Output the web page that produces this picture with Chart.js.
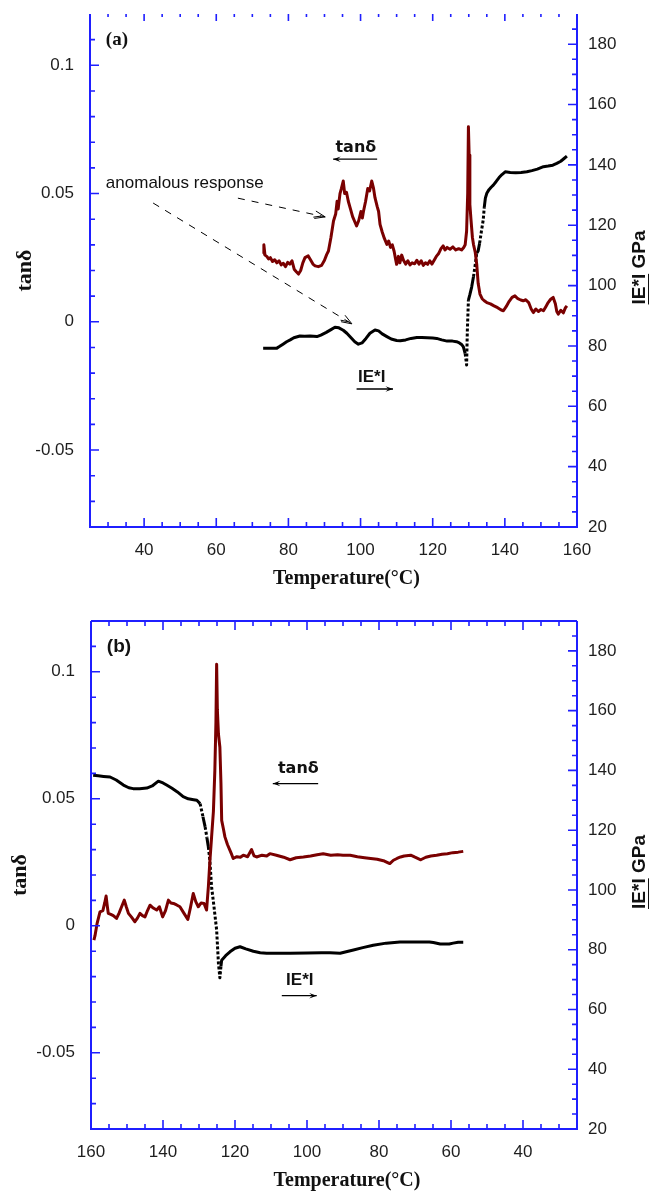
<!DOCTYPE html>
<html><head><meta charset="utf-8">
<script src="https://cdn.jsdelivr.net/npm/chart.js@4.4.0/dist/chart.umd.min.js"></script>
<style>
html,body{margin:0;padding:0;background:#fff;}
#wrap{position:relative;width:649px;height:1192px;overflow:hidden;}
canvas{position:absolute;left:0;}
#c1{top:0}
#c2{top:596px}
</style></head><body>
<div id="wrap"><canvas id="c1" width="649" height="596"></canvas><canvas id="c2" width="649" height="596"></canvas></div>
<script>
// ---------- tick labels ----------
const tempTicks = [40, 60, 80, 100, 120, 140, 160];
const tanTicks = [-0.05, 0, 0.05, 0.1];
const tanTickLabels = ['-0.05', '0', '0.05', '0.1'];
const modTicks = [20, 40, 60, 80, 100, 120, 140, 160, 180];

// ---------- panel (a): heating ----------
const aTanTemp = [73.0,73.2,73.5,74.0,74.5,75.0,75.6,76.2,76.8,77.4,78.0,78.6,79.2,79.8,80.4,81.0,81.6,82.2,82.8,83.4,84.0,84.6,85.5,86.2,86.8,87.4,88.3,89.2,90.0,90.6,91.1,91.8,92.5,93.1,93.5,93.8,94.3,94.7,95.2,95.6,96.1,96.6,97.2,97.8,98.4,98.9,99.5,100.1,100.5,100.8,101.4,102.0,102.5,103.1,103.6,104.0,104.6,105.0,105.4,106.0,106.6,107.3,107.8,108.3,108.8,109.3,109.7,110.0,110.5,110.9,111.4,111.9,112.5,113.1,113.7,114.3,115.0,115.6,116.2,116.8,117.4,118.0,118.6,119.2,119.8,120.4,121.0,121.6,122.3,122.9,123.4,124.0,124.8,125.6,126.4,127.2,128.0,128.6,129.0,129.4,129.7,129.9,130.1,130.3,130.6,131.0,131.3,131.8,132.2,132.6,133.1,133.7,134.3,135.0,136.0,137.0,138.0,139.0,139.6,140.4,141.2,142.0,142.8,143.6,144.4,145.1,145.8,146.6,147.3,147.9,148.6,149.3,150.0,150.7,151.4,152.0,152.7,153.4,154.0,154.4,154.8,155.5,156.2,156.8,157.2];
const aTan = [0.0265,0.0300,0.0260,0.0255,0.0245,0.0250,0.0235,0.0242,0.0230,0.0238,0.0222,0.0228,0.0215,0.0232,0.0225,0.0238,0.0205,0.0195,0.0186,0.0200,0.0230,0.0250,0.0257,0.0240,0.0225,0.0218,0.0215,0.0220,0.0240,0.0262,0.0276,0.0330,0.0393,0.0420,0.0470,0.0440,0.0500,0.0520,0.0549,0.0500,0.0505,0.0470,0.0440,0.0410,0.0390,0.0374,0.0395,0.0430,0.0405,0.0430,0.0470,0.0520,0.0510,0.0549,0.0520,0.0484,0.0450,0.0430,0.0380,0.0350,0.0325,0.0302,0.0315,0.0290,0.0300,0.0275,0.0245,0.0224,0.0255,0.0230,0.0260,0.0240,0.0225,0.0238,0.0222,0.0230,0.0226,0.0240,0.0225,0.0238,0.0220,0.0230,0.0224,0.0238,0.0225,0.0240,0.0255,0.0265,0.0285,0.0296,0.0280,0.0290,0.0283,0.0292,0.0280,0.0285,0.0280,0.0290,0.0300,0.0354,0.0500,0.0760,0.0650,0.0458,0.0400,0.0330,0.0302,0.0270,0.0225,0.0150,0.0108,0.0090,0.0082,0.0075,0.0070,0.0062,0.0055,0.0046,0.0043,0.0060,0.0080,0.0095,0.0101,0.0090,0.0085,0.0082,0.0086,0.0075,0.0050,0.0036,0.0050,0.0040,0.0048,0.0043,0.0060,0.0075,0.0088,0.0095,0.0070,0.0040,0.0030,0.0045,0.0035,0.0055,0.0062];
const aModTemp = [73.0,74.0,75.0,76.7,77.5,78.5,79.5,80.5,81.5,83.2,84.5,86.0,87.9,89.0,90.5,91.8,92.9,94.0,95.2,96.2,97.3,98.4,99.4,100.4,101.5,102.6,104.0,105.0,106.0,107.3,108.5,110.0,111.0,112.5,114.0,115.6,117.0,118.5,120.0,121.1,122.5,124.0,125.5,126.6,127.4,128.0,128.5,129.0,129.4,129.6,129.9,130.3,130.8,131.3,131.8,132.2,132.6,133.0,133.5,134.0,134.3,134.6,135.0,135.6,136.2,136.8,137.6,138.4,139.2,140.1,141.5,143.0,144.5,146.1,147.5,149.0,150.7,152.0,153.3,154.4,155.5,156.5,157.2];
const aMod = [79.2,79.2,79.2,79.2,79.8,80.6,81.4,82.0,82.7,83.3,83.2,83.3,83.1,83.6,84.5,85.4,86.2,86.0,85.2,84.2,82.8,81.4,80.6,81.0,82.5,84.2,85.3,85.0,84.0,83.1,82.3,81.8,81.7,82.0,82.5,82.8,82.8,82.7,82.6,82.5,82.0,81.6,81.6,81.4,81.0,80.5,79.7,77.5,73.7,85.0,95.2,97.0,99.5,102.9,107.0,110.7,111.5,114.0,118.0,121.7,126.0,129.0,130.6,131.8,132.6,133.3,134.5,135.8,136.8,137.7,137.5,137.4,137.5,137.7,138.1,138.6,139.4,139.6,139.9,140.5,141.2,142.2,142.9];

// ---------- panel (b): cooling ----------
const bTanTemp = [159.2,158.9,158.3,157.5,156.7,156.2,155.8,155.5,155.2,154.5,153.8,152.9,152.2,151.5,150.75,150.2,149.6,148.8,147.8,147.1,146.4,145.7,145.0,144.3,143.6,142.7,141.75,141.0,140.1,139.3,138.5,137.8,137.1,136.2,135.3,134.2,133.1,132.4,131.6,130.9,130.2,129.4,128.6,127.9,127.4,127.0,126.5,126.0,125.6,125.3,125.1,124.9,124.6,124.2,123.9,123.7,123.2,122.8,122.1,121.4,120.9,120.5,119.5,118.5,117.7,116.5,115.4,114.7,114.0,112.5,111.2,110.3,108.5,106.5,104.7,103.0,101.0,99.0,97.2,95.5,93.4,91.5,90.0,88.0,86.0,84.0,82.3,80.5,78.5,77.0,76.0,75.0,74.0,73.0,71.2,70.0,68.4,67.0,65.6,64.0,62.5,61.0,59.5,58.0,56.6];
const bTan = [-0.0056,-0.0040,0.0010,0.0055,0.0060,0.0090,0.0117,0.0080,0.0049,0.0045,0.0040,0.0029,0.0050,0.0075,0.0101,0.0075,0.0049,0.0035,0.0016,0.0030,0.0049,0.0040,0.0035,0.0060,0.0081,0.0070,0.0062,0.0075,0.0035,0.0060,0.0101,0.0090,0.0088,0.0082,0.0075,0.0050,0.0025,0.0070,0.0127,0.0095,0.0075,0.0090,0.0088,0.0062,0.0153,0.0250,0.0350,0.0450,0.0611,0.0800,0.1030,0.0850,0.0755,0.0703,0.0560,0.0415,0.0380,0.0350,0.0320,0.0297,0.0280,0.0265,0.0272,0.0270,0.0278,0.0272,0.0300,0.0275,0.0271,0.0278,0.0275,0.0284,0.0278,0.0270,0.0260,0.0268,0.0271,0.0275,0.0280,0.0284,0.0278,0.0280,0.0278,0.0278,0.0272,0.0268,0.0265,0.0262,0.0255,0.0245,0.0258,0.0265,0.0271,0.0275,0.0278,0.0270,0.0260,0.0270,0.0275,0.0278,0.0282,0.0284,0.0288,0.0290,0.0293];
const bModTemp = [159.4,158.0,156.5,154.7,153.0,151.0,149.5,148.3,146.5,144.5,143.0,141.3,140.0,139.0,137.5,136.0,134.4,133.0,131.5,130.6,129.7,128.9,128.3,127.8,127.4,127.0,126.5,125.8,125.1,124.6,124.2,123.9,123.7,122.6,121.4,120.0,118.6,117.0,114.9,113.0,111.2,108.0,104.7,100.0,96.0,93.6,90.8,88.8,87.1,84.5,81.6,78.0,74.2,70.0,66.0,64.9,63.0,60.5,59.4,58.0,56.6];
const bMod = [138.4,138.2,138.0,137.8,136.8,135.1,134.2,133.9,133.9,134.1,134.8,136.4,135.8,135.1,134.0,132.8,131.2,130.5,130.2,130.0,128.9,124.5,121.1,117.5,114.4,110.0,101.0,94.0,86.6,75.4,70.6,74.5,76.5,78.0,79.3,80.5,81.0,80.3,79.5,79.0,78.8,78.8,78.8,78.9,79.0,79.0,78.8,79.4,79.9,80.7,81.5,82.2,82.6,82.6,82.6,82.4,81.9,81.9,82.2,82.5,82.5];

// ---------- styling ----------
const AXIS_BLUE = '#1f1fff';
const TAN_COLOR = '#7a0000';
const MOD_COLOR = '#000000';
const TICK_FONT = {family: "'Liberation Sans', Arial, sans-serif", size: 17};
const TICK_COLOR = '#1e1e1e';

function pts(xs, ys) { return xs.map((x, i) => ({x: x, y: ys[i]})); }

function drawArrowHead(ctx, x0, y0, x1, y1, len, open) {
  const ang = Math.atan2(y1 - y0, x1 - x0);
  const a1 = ang + Math.PI - 0.35, a2 = ang + Math.PI + 0.35;
  ctx.beginPath();
  if (open) {
    ctx.moveTo(x1 + len * Math.cos(a1), y1 + len * Math.sin(a1));
    ctx.lineTo(x1, y1);
    ctx.lineTo(x1 + len * Math.cos(a2), y1 + len * Math.sin(a2));
    ctx.stroke();
    ctx.beginPath();
    const bx = x1 - 4 * Math.cos(ang), by = y1 - 4 * Math.sin(ang);
    ctx.moveTo(bx + (len - 3) * Math.cos(a1), by + (len - 3) * Math.sin(a1));
    ctx.lineTo(bx, by);
    ctx.stroke();
  } else {
    ctx.moveTo(x1, y1);
    ctx.lineTo(x1 + len * Math.cos(a1), y1 + len * Math.sin(a1));
    ctx.lineTo(x1 - 0.55 * len * Math.cos(ang), y1 - 0.55 * len * Math.sin(ang));
    ctx.lineTo(x1 + len * Math.cos(a2), y1 + len * Math.sin(a2));
    ctx.closePath();
    ctx.fill();
  }
}

const framePlugin = {
  id: 'frame',
  afterDraw(chart, args, o) {
    const ctx = chart.ctx, a = chart.chartArea;
    const xs = chart.scales.x, yl = chart.scales.y, yr = chart.scales.y1;
    ctx.save();
    ctx.strokeStyle = AXIS_BLUE;
    ctx.lineWidth = 2;
    ctx.beginPath();
    ctx.moveTo(a.left, a.top); ctx.lineTo(a.left, a.bottom);
    ctx.lineTo(a.right, a.bottom); ctx.lineTo(a.right, a.top);
    if (o.topLine) { ctx.moveTo(a.left, a.top); ctx.lineTo(a.right, a.top); }
    ctx.stroke();
    ctx.lineWidth = 1.6;
    ctx.beginPath();
    for (let v = 30; v < 160; v += 5) {
      const px = xs.getPixelForValue(v);
      const major = v % 20 === 0;
      const L = major ? 9 : 5;
      ctx.moveTo(px, a.bottom); ctx.lineTo(px, a.bottom - L);
      const T = o.topLine ? L : (major ? 7 : 3);
      ctx.moveTo(px, a.top); ctx.lineTo(px, a.top + T);
    }
    for (let k = -7; k <= 11; k++) {
      const py = yl.getPixelForValue(k / 100);
      const L = (k % 5 === 0) ? 9 : 5;
      ctx.moveTo(a.left, py); ctx.lineTo(a.left + L, py);
    }
    for (let v = 25; v < 190; v += 5) {
      const py = yr.getPixelForValue(v);
      const L = (v % 20 === 0) ? 9 : 5;
      ctx.moveTo(a.right, py); ctx.lineTo(a.right - L, py);
    }
    ctx.stroke();

    // axis titles
    ctx.fillStyle = '#111';
    const cy = (a.top + a.bottom) / 2;
    ctx.save();
    ctx.translate(o.leftTitleX, cy);
    ctx.rotate(-Math.PI / 2);
    ctx.font = "bold 22px 'Liberation Serif', 'Times New Roman', serif";
    ctx.textAlign = 'center'; ctx.textBaseline = 'middle';
    ctx.fillText('tan\u03b4', 0, 0);
    ctx.restore();

    ctx.save();
    ctx.translate(o.rightTitleX, cy - 3);
    ctx.rotate(-Math.PI / 2);
    ctx.font = "bold 19px 'Liberation Sans', Arial, sans-serif";
    ctx.textAlign = 'left'; ctx.textBaseline = 'middle';
    const full = 'IE*I GPa';
    const w = ctx.measureText(full).width;
    ctx.fillText(full, -w / 2, 0);
    const wu = ctx.measureText('IE*I').width;
    ctx.fillRect(-w / 2, 8, wu, 1.5);
    ctx.restore();

    ctx.font = "bold 20px 'Liberation Serif', 'Times New Roman', serif";
    ctx.textAlign = 'center'; ctx.textBaseline = 'middle';
    ctx.fillText('Temperature(\u00b0C)', (a.left + a.right) / 2 + 13, a.bottom + o.xTitleDY);

    // annotations
    (o.notes || []).forEach(n => {
      ctx.strokeStyle = '#000'; ctx.fillStyle = '#111';
      if (n.type === 'text') {
        ctx.font = n.font;
        ctx.textAlign = n.align || 'center'; ctx.textBaseline = 'middle';
        ctx.fillText(n.text, xs.getPixelForValue(n.x), yl.getPixelForValue(n.y));
      } else if (n.type === 'arrow') {
        const x0 = xs.getPixelForValue(n.x0), x1 = xs.getPixelForValue(n.x1), y = yl.getPixelForValue(n.y);
        ctx.lineWidth = 1.3;
        ctx.beginPath(); ctx.moveTo(x0, y); ctx.lineTo(x1, y); ctx.stroke();
        ctx.fillStyle = '#000';
        drawArrowHead(ctx, x0, y, x1, y, 8, false);
      } else if (n.type === 'dash') {
        const x0 = xs.getPixelForValue(n.x0), y0 = yl.getPixelForValue(n.y0);
        const x1 = xs.getPixelForValue(n.x1), y1 = yl.getPixelForValue(n.y1);
        ctx.lineWidth = 1;
        ctx.setLineDash([7, 7]);
        ctx.beginPath(); ctx.moveTo(x0, y0); ctx.lineTo(x1, y1); ctx.stroke();
        ctx.setLineDash([]);
        drawArrowHead(ctx, x0, y0, x1, y1, 11, true);
      }
    });
    ctx.restore();
  }
};

function makeChart(id, p) {
  const steep = ctx => (Math.abs(ctx.p1.parsed.y - ctx.p0.parsed.y) > 3.5 ? [3, 2] : undefined);
  const vFit = w => s => { s.width = w; s.paddingTop = 0; s.paddingBottom = 0; };
  return new Chart(document.getElementById(id), {
    type: 'line',
    data: {
      datasets: [
        {label: 'tan\u03b4', data: pts(p.tanT, p.tan), yAxisID: 'y', borderColor: TAN_COLOR,
         borderWidth: 3, pointRadius: 0, tension: 0, fill: false, borderJoinStyle: 'round'},
        {label: 'IE*I', data: pts(p.modT, p.mod), yAxisID: 'y1', borderColor: MOD_COLOR,
         borderWidth: 3, pointRadius: 0, tension: 0, fill: false, borderJoinStyle: 'round',
         segment: {borderDash: steep}}
      ]
    },
    options: {
      responsive: false, animation: false, devicePixelRatio: 1,
      layout: {padding: {top: p.padTop, left: 0, right: 0, bottom: 0}},
      plugins: {legend: {display: false}, tooltip: {enabled: false},
        frame: {topLine: p.topLine, leftTitleX: p.leftTitleX, rightTitleX: 640, xTitleDY: p.xTitleDY, notes: p.notes}},
      scales: {
        x: {type: 'linear', min: 25, max: 160, reverse: p.reverse,
            afterBuildTicks: s => { s.ticks = tempTicks.map(v => ({value: v})); },
            afterFit: s => { s.height = p.xH; s.paddingLeft = 0; s.paddingRight = 0; },
            ticks: {font: TICK_FONT, color: TICK_COLOR, padding: 13, maxRotation: 0, autoSkip: false,
                    callback: v => String(v)},
            grid: {display: false, drawTicks: false}, border: {display: false}},
        y: {type: 'linear', position: 'left', min: -0.08, max: 0.12,
            afterBuildTicks: s => { s.ticks = tanTicks.map(v => ({value: v})); },
            afterFit: vFit(p.yW),
            ticks: {font: TICK_FONT, color: TICK_COLOR, padding: 16, autoSkip: false,
                    callback: v => tanTickLabels[tanTicks.indexOf(v)]},
            grid: {display: false, drawTicks: false}, border: {display: false}},
        y1: {type: 'linear', position: 'right', min: 20, max: 190,
            afterBuildTicks: s => { s.ticks = modTicks.map(v => ({value: v})); },
            afterFit: vFit(72),
            ticks: {font: TICK_FONT, color: TICK_COLOR, padding: 11, autoSkip: false,
                    callback: v => String(v)},
            grid: {display: false, drawTicks: false}, border: {display: false}}
      }
    },
    plugins: [framePlugin]
  });
}

const noteSans = "bold 16px 'DejaVu Sans', sans-serif";
const noteE = "bold 17px 'Liberation Sans', Arial, sans-serif";

makeChart('c1', {
  tanT: aTanTemp, tan: aTan, modT: aModTemp, mod: aMod, reverse: false,
  padTop: 14, xH: 69, yW: 90, topLine: false, leftTitleX: 25, xTitleDY: 52,
  notes: [
    {type: 'text', text: '(a)', x: 29.4, y: 0.1097, align: 'left', font: "bold 19px 'Liberation Serif', serif"},
    {type: 'text', text: 'anomalous response', x: 29.4, y: 0.0539, align: 'left', font: "17px 'Liberation Sans', Arial, sans-serif"},
    {type: 'dash', x0: 66.0, y0: 0.0482, x1: 90.2, y1: 0.0409},
    {type: 'dash', x0: 42.5, y0: 0.0463, x1: 97.6, y1: -0.0008},
    {type: 'text', text: 'tan\u03b4', x: 98.7, y: 0.0679, font: noteSans},
    {type: 'arrow', x0: 104.6, x1: 92.4, y: 0.0634},
    {type: 'text', text: 'IE*I', x: 103.1, y: -0.0217, font: noteE},
    {type: 'arrow', x0: 98.9, x1: 109.0, y: -0.0262}
  ]
});

makeChart('c2', {
  tanT: bTanTemp, tan: bTan, modT: bModTemp, mod: bMod, reverse: true,
  padTop: 25, xH: 63, yW: 91, topLine: true, leftTitleX: 20, xTitleDY: 52,
  notes: [
    {type: 'text', text: '(b)', x: 155.6, y: 0.110, align: 'left', font: "bold 19px 'Liberation Sans', Arial, sans-serif"},
    {type: 'text', text: 'tan\u03b4', x: 102.4, y: 0.0619, font: noteSans},
    {type: 'arrow', x0: 96.9, x1: 109.5, y: 0.0560},
    {type: 'text', text: 'IE*I', x: 102.0, y: -0.0213, font: noteE},
    {type: 'arrow', x0: 107.0, x1: 97.3, y: -0.0275}
  ]
});
</script>
</body></html>
